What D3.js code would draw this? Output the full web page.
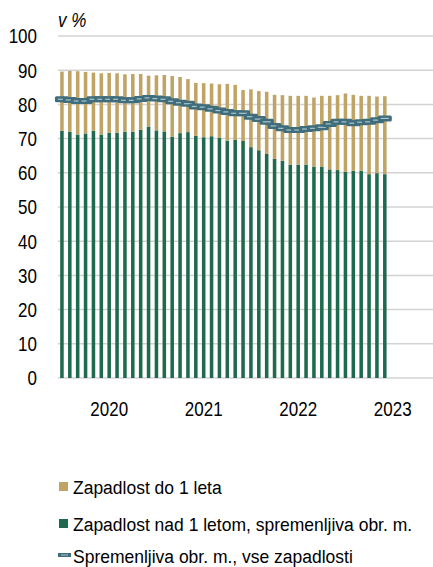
<!DOCTYPE html>
<html>
<head>
<meta charset="utf-8">
<script src="https://cdn.jsdelivr.net/npm/d3@7"></script>
<style>
  body { margin: 0; background: #fff; }
  svg { display: block; }
  text { font-family: "Liberation Sans", Arial, sans-serif; fill: #000; }
</style>
</head>
<body>
<svg width="433" height="567"></svg>
<script>
// months shown: Jul 2019 - Dec 2022 (axis runs on to mid 2023)
var months = d3.timeMonth.range(new Date(2019, 6, 1), new Date(2023, 0, 1));
var axisMonths = d3.timeMonth.range(new Date(2019, 6, 1), new Date(2023, 6, 1));

var yearTicks = ["2020", "2021", "2022", "2023"];
var yTicks = [0, 10, 20, 30, 40, 50, 60, 70, 80, 90, 100];

// Zapadlost nad 1 letom, spremenljiva obr. m.
var over1 = [72.3, 72.0, 71.2, 71.5, 72.3, 71.2, 71.7, 71.7, 72.0, 72.0, 72.6, 73.5, 72.4, 72.1,
             70.5, 71.6, 71.9, 70.8, 70.4, 70.7, 70.2, 69.4, 69.6, 69.3, 67.5, 66.6, 65.5, 64.1,
             63.5, 62.4, 62.4, 62.4, 61.8, 61.7, 61.0, 60.8, 60.3, 60.6, 60.6, 59.6, 59.9, 59.6];
// Zapadlost do 1 leta
var upTo1 = [17.3, 17.8, 18.5, 18.0, 17.0, 17.9, 17.5, 17.4, 16.8, 16.9, 16.3, 14.9, 16.1, 16.5,
             17.8, 16.4, 15.5, 15.5, 15.8, 15.4, 15.7, 16.6, 16.1, 14.9, 16.9, 17.3, 18.2, 18.7,
             19.2, 20.1, 20.1, 20.1, 20.2, 20.8, 21.5, 21.9, 22.9, 22.2, 21.9, 22.9, 22.4, 22.8];
// Spremenljiva obr. m., vse zapadlosti
var allAvg = [81.5, 81.3, 81.0, 81.0, 81.5, 81.5, 81.5, 81.5, 81.2, 81.2, 81.6, 81.9, 81.7, 81.5,
              80.9, 80.5, 80.2, 79.4, 79.2, 78.7, 78.2, 77.8, 77.4, 77.4, 76.4, 75.7, 74.9, 73.7,
              73.0, 72.5, 72.5, 72.8, 73.0, 73.3, 74.3, 74.9, 74.9, 74.5, 74.8, 74.9, 75.4, 75.9];

var legendLabels = ["Zapadlost do 1 leta",
                    "Zapadlost nad 1 letom, spremenljiva obr. m.",
                    "Spremenljiva obr. m., vse zapadlosti"];

var gold = "#bfa465", green = "#1f6a4f", teal = "#3f6d7c", tealLight = "#a9c6cd", grid = "#d3d3d3";

var svg = d3.select("svg");

var data = months.map(function(m, i) {
    return { month: m, over1: over1[i], upTo1: upTo1[i], avg: allAvg[i] };
});

var x = d3.scaleBand()
    .domain(axisMonths.map(function(d) { return +d; }))
    .range([58, 436])
    .paddingInner(0.55)
    .paddingOuter(0.275);

var y = d3.scaleLinear().domain([0, 100]).range([378, 36]);

function cx(d) { return x(+d) + x.bandwidth() / 2; }

// the source text is drawn a bit taller than normal
function tall(px, py, s) { return "translate(" + px + "," + py + ") scale(1," + s + ")"; }

// grid
svg.append("g").selectAll("line").data(yTicks).enter().append("line")
    .attr("x1", 58).attr("x2", 433)
    .attr("y1", function(d) { return y(d); })
    .attr("y2", function(d) { return y(d); })
    .attr("stroke", grid).attr("stroke-width", 1.5);

// y labels
svg.append("g").selectAll("text").data(yTicks).enter().append("text")
    .attr("transform", function(d) { return tall(37, y(d), 1.2); })
    .attr("dy", "0.36em")
    .attr("text-anchor", "end")
    .style("font-size", "17px")
    .text(function(d) { return d; });

svg.append("text")
    .attr("transform", tall(58, 27, 1.15))
    .style("font-size", "17px").style("font-style", "italic")
    .text("v %");

// stacked bars
var stack = d3.stack().keys(["over1", "upTo1"])(data);
var colors = { over1: green, upTo1: gold };

svg.append("g").selectAll("g").data(stack).enter().append("g")
    .attr("fill", function(s) { return colors[s.key]; })
    .selectAll("rect").data(function(s) { return s; }).enter().append("rect")
    .attr("x", function(d) { return x(+d.data.month); })
    .attr("width", x.bandwidth())
    .attr("y", function(d) { return y(d[1]); })
    .attr("height", function(d) { return y(d[0]) - y(d[1]); });

// year labels at January
svg.append("g").selectAll("text").data(yearTicks).enter().append("text")
    .attr("transform", function(d) { return tall(cx(new Date(+d, 0, 1)), 415.5, 1.2); })
    .attr("text-anchor", "middle")
    .style("font-size", "17px")
    .text(function(d) { return d; });

// moving average line with dash markers
var line = d3.line()
    .x(function(d) { return cx(d.month); })
    .y(function(d) { return y(d.avg); });

svg.append("path").datum(data)
    .attr("d", line)
    .attr("fill", "none")
    .attr("stroke", teal)
    .attr("stroke-width", 5);

var mk = svg.append("g").selectAll("g").data(data).enter().append("g")
    .attr("transform", function(d) { return "translate(" + cx(d.month) + "," + y(d.avg) + ")"; });
mk.append("rect")
    .attr("x", -7).attr("y", -3).attr("width", 14).attr("height", 6).attr("rx", 1.5)
    .attr("fill", teal);
mk.append("line")
    .attr("x1", -4).attr("x2", 4)
    .attr("stroke", tealLight).attr("stroke-width", 1.2);

// legend
var lg = svg.append("g").selectAll("g").data(legendLabels).enter().append("g")
    .attr("transform", function(d, i) { return "translate(0," + [494, 531, 563][i] + ")"; });

lg.filter(function(d, i) { return i < 2; }).append("rect")
    .attr("x", 59).attr("y", -12).attr("width", 9).attr("height", 9)
    .attr("fill", function(d, i) { return i === 0 ? gold : green; });

lg.filter(function(d, i) { return i === 2; }).append("line")
    .attr("x1", 58).attr("x2", 71).attr("y1", -8).attr("y2", -8)
    .attr("stroke", teal).attr("stroke-width", 4);
lg.filter(function(d, i) { return i === 2; }).append("line")
    .attr("x1", 61).attr("x2", 68).attr("y1", -8).attr("y2", -8)
    .attr("stroke", tealLight).attr("stroke-width", 1);

lg.append("text")
    .attr("transform", tall(73, 0, 1.1))
    .style("font-size", "17.5px")
    .text(function(d) { return d; });
</script>
</body>
</html>
